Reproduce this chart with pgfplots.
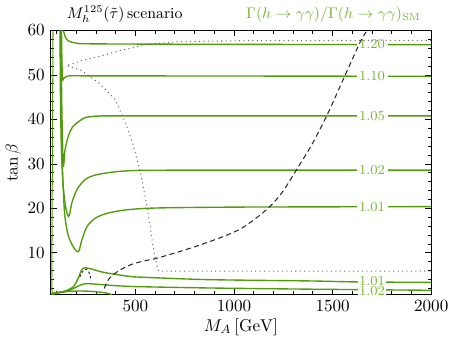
\documentclass[border=0pt]{standalone}
\usepackage{pgfplots}
\pgfplotsset{compat=1.18}
\definecolor{grnline}{RGB}{82,156,12}
\definecolor{grnlab}{RGB}{118,182,52}
\begin{document}
\begin{tikzpicture}
\begin{axis}[
  scale only axis,
  width=222.5pt, height=154.5pt,
  xmin=70, xmax=2000, ymin=0.6, ymax=60,
  xtick={500,1000,1500,2000},
  minor xtick={100,200,...,1900},
  ytick={10,20,...,60},
  minor ytick={2,4,...,58},
  /pgf/number format/1000 sep={},
  major tick length=3.5pt, minor tick length=2pt,
  every tick/.style={black, line width=0.5pt},
  axis line style={line width=0.8pt},
  xlabel={$M_A\,[\mathrm{GeV}]$},
  ylabel={$\tan\beta$},
  xlabel style={yshift=3pt},
  ylabel style={yshift=-3pt},
  clip=true,
]
% green contours
\pgfplotsset{cont/.style={grnline, line width=0.8pt, smooth, tension=0.45}}
\addplot[cont] coordinates {(135,60)(143,58.7)(158,57.7)(194,57.2)(271,57.0)(832,56.9)(2000,56.8)};
\addplot[cont] coordinates {(125,60)(127,53.5)(129.5,49.2)(131,48.8)(138,49.3)(148,49.6)(169,49.8)(322,49.8)(2000,49.7)};
\addplot[cont] coordinates {(122.6,60)(125,48.3)(128,39.3)(131.3,32.8)(134.3,29.6)(138,30.5)(143,33.2)(160,36.3)(185,38.5)(244,40.4)(312,40.7)(414,40.8)(2000,40.8)};
\addplot[cont] coordinates {(120,60)(122.6,43.8)(127.7,32.5)(132.8,25.5)(143,21.2)(153,18.9)(161,18.2)(168,19)(177,21.2)(203,24.2)(245,26.5)(305,27.6)(441,28.4)(695,28.6)(2000,28.6)};
\addplot[cont] coordinates {(117.5,60)(120,43.8)(125,32.5)(132.8,25.3)(141.5,18.5)(158.4,14.0)(184,11.4)(204,10.3)(215,10.6)(228,12.9)(254,15.9)(296,17.8)(356,18.9)(458,19.7)(611,20.1)(1037,20.3)(2000,20.4)};
\addplot[cont, line width=0.6pt] coordinates {(82,60)(79,35)(77,15)(76,5)(77,1.5)(80,0.8)};
\addplot[cont] coordinates {(75,0.7)(90.4,0.98)(141.5,1.43)(184,2.34)(209,4.22)(226,6.1)(240,6.64)(269,6.48)(328,5.73)(397,5.19)(465,4.74)(526,4.55)(867,3.99)(1377,3.7)(1633,3.47)(2000,3.38)};
\addplot[cont] coordinates {(75,0.65)(90.4,0.83)(158,1.44)(201,2.34)(226,2.86)(252,3.09)(312,2.93)(397,2.64)(465,2.48)(526,2.4)(867,2.12)(1377,1.85)(2000,1.6)};
\addplot[cont] coordinates {(75,0.7)(83,0.94)(143,1.28)(220,1.44)(296,1.28)(357,0.94)(380,0.6)};
% contour labels
\tikzset{clab/.style={fill=white, text=grnlab, font=\footnotesize, inner sep=1.5pt}}
\node[clab] at (axis cs:1700,56.9) {1.20};
\node[clab] at (axis cs:1700,49.7) {1.10};
\node[clab] at (axis cs:1700,40.8) {1.05};
\node[clab] at (axis cs:1700,28.6) {1.02};
\node[clab] at (axis cs:1700,20.4) {1.01};
\node[clab, inner sep=0.5pt] at (axis cs:1700,3.6) {1.01};
\node[clab, inner sep=0.5pt] at (axis cs:1700,1.4) {1.02};
% dashed contour
\addplot[black!85, line width=0.6pt, dash pattern=on 3pt off 2pt, smooth, tension=0.5] coordinates {(342,2.0)(363,4.0)(398,5.46)(444,6.7)(492,7.6)(560,8.36)(603,8.74)(746,10.6)(899,12.9)(1037,15.5)(1164,19.7)(1241,23.4)(1317,28.7)(1394,34.3)(1471,40.9)(1563,49.9)(1640,57.4)(1675,60)};
\addplot[black!85, line width=0.5pt, dash pattern=on 1.5pt off 1.2pt, smooth] coordinates {(218,4.6)(235,6.0)(252,6.3)(269,5.2)(274,3.8)};
% dotted contour
\addplot[black!60, line width=0.6pt, dotted] coordinates {(2000,57.8)(1037,57.7)(730,57.5)(577,57.0)(414,55.4)(312,54.1)(226,53.2)(149.7,52.1)(226,51.0)(312,48.3)(397,44.5)(449,39.3)(485,34.8)(526,28.0)(562,19.6)(592,10.6)(608,7.2)(618,5.9)(2000,5.9)};
\end{axis}
\node[anchor=base west, font=\small] at ([xshift=5.9pt, yshift=6.8pt]current axis.north west) {$M_h^{125}(\tilde\tau)$\,scenario};
\node[anchor=base east, font=\small, text=grnlab] at ([xshift=-2.4pt, yshift=6.8pt]current axis.north east) {$\Gamma(h\to\gamma\gamma)/\Gamma(h\to\gamma\gamma)_{\mathrm{SM}}$};
\end{tikzpicture}
\end{document}
